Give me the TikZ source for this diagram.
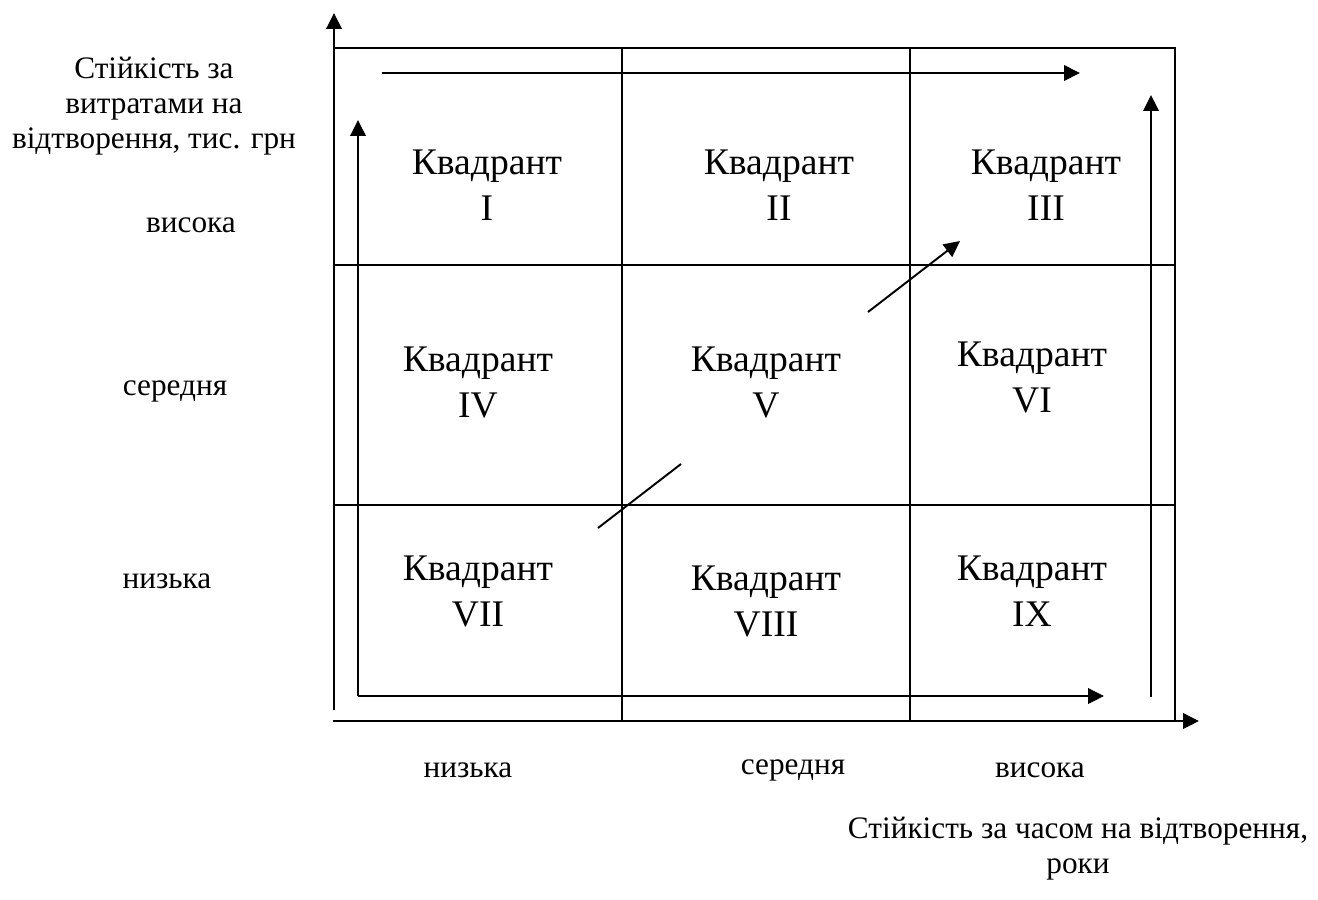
\documentclass[tikz,border=0pt]{standalone}
\usepackage{fontspec}
\setmainfont{Liberation Serif}
\usetikzlibrary{arrows.meta}
\tikzset{
    quad/.style={font=\fontsize{21.4}{26.2}\selectfont, align=center},
    lbl/.style={font=\fontsize{17.8}{19.9}\selectfont, align=center},
    ln/.style={line width=1.1pt},
    arr/.style={line width=1.1pt, -{Triangle[length=0.32cm, width=0.31cm]}}
}
\begin{document}
\begin{tikzpicture}[x=0.02cm, y=-0.02cm]
            \useasboundingbox (0,0) rectangle (1318,899);
            \coordinate (o) at (334,710);
            \coordinate (ytip) at (334,13);
            \coordinate (xo) at (333,721);
            \coordinate (xtip) at (1199,721);
            \coordinate (tl) at (334,48);
            \coordinate (tr) at (1175,48);
            \coordinate (br) at (1175,721);
            \draw[arr] (o) -- (ytip);
            \draw[arr] (xo) -- (xtip);
            \draw[ln] (tl) -- (tr) -- (br);
            \draw[ln] (622,48) coordinate (v1t) -- (622,721) coordinate (v1b);
            \draw[ln] (910,48) coordinate (v2t) -- (910,721) coordinate (v2b);
            \draw[ln] (334,265) coordinate (h1l) -- (1175,265) coordinate (h1r);
            \draw[ln] (334,505) coordinate (h2l) -- (1175,505) coordinate (h2r);
            \coordinate (corner) at (358,696);
            \coordinate (uptip) at (358,120);
            \coordinate (righttip) at (1104,696);
            \draw[arr] (corner) -- (uptip);
            \draw[arr] (corner) -- (righttip);
            \coordinate (topl) at (382,73);
            \coordinate (topr) at (1080,73);
            \draw[arr] (topl) -- (topr);
            \coordinate (rbot) at (1151,697);
            \coordinate (rtip) at (1151,95);
            \draw[arr] (rbot) -- (rtip);
            \coordinate (d1) at (598,528);
            \coordinate (d2) at (681,464);
            \coordinate (d3) at (868,312);
            \coordinate (d4) at (960,241);
            \draw[ln] (d1) -- (d2);
            \draw[arr] (d3) -- (d4);
            \node[quad] (q1) at (487,185) {Квадрант\\I};
            \node[quad] (q2) at (779,185) {Квадрант\\II};
            \node[quad] (q3) at (1046,185) {Квадрант\\III};
            \node[quad] (q4) at (478,382) {Квадрант\\IV};
            \node[quad] (q5) at (766,382) {Квадрант\\V};
            \node[quad] (q6) at (1032,377) {Квадрант\\VI};
            \node[quad] (q7) at (478,591) {Квадрант\\VII};
            \node[quad] (q8) at (766,601) {Квадрант\\VIII};
            \node[quad] (q9) at (1032,591) {Квадрант\\IX};
            \node[lbl] (ytitle) at (154,106) {Стійкість за\\витратами на\\відтворення, тис. грн};
            \node[lbl] (yhigh) at (191,225) {висока};
            \node[lbl] (ymid) at (175,391) {середня};
            \node[lbl] (ylow) at (167,581) {низька};
            \node[lbl] (xlow) at (468,770) {низька};
            \node[lbl] (xmid) at (793,770) {середня};
            \node[lbl] (xhigh) at (1040,770) {висока};
            \node[lbl] (xtitle) at (1078,849) {Стійкість за часом на відтворення,\\роки};
        \end{tikzpicture}
\end{document}
